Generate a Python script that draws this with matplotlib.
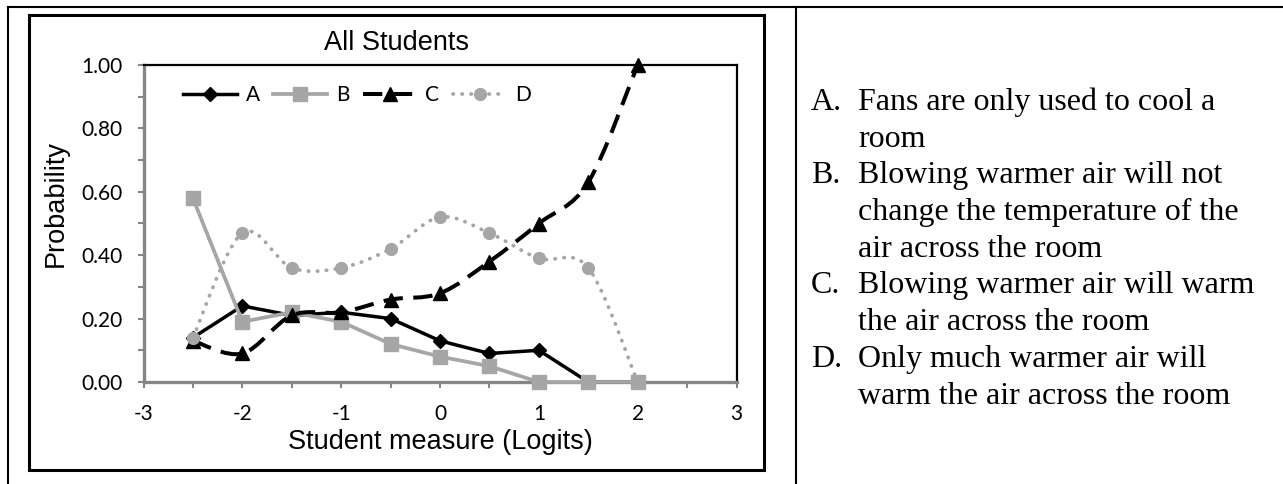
import numpy as np
import matplotlib
matplotlib.use("Agg")
import matplotlib.pyplot as plt
from matplotlib.path import Path
from matplotlib.patches import PathPatch, Rectangle
from matplotlib.lines import Line2D

# ---------------- data ----------------
x_vals = [-2.5, -2, -1.5, -1, -0.5, 0, 0.5, 1, 1.5, 2]
a_vals = [0.14, 0.24, 0.21, 0.22, 0.20, 0.13, 0.09, 0.10, 0.00, 0.00]
b_vals = [0.58, 0.19, 0.22, 0.19, 0.12, 0.08, 0.05, 0.00, 0.00, 0.00]
c_vals = [0.13, 0.09, 0.21, 0.22, 0.26, 0.28, 0.38, 0.50, 0.63, 1.00]
d_vals = [0.14, 0.47, 0.36, 0.36, 0.42, 0.52, 0.47, 0.39, 0.36, 0.00]
series_names = ["A", "B", "C", "D"]

x_ticks = [-3, -2, -1, 0, 1, 2, 3]
x_tick_labels = ["-3", "-2", "-1", "0", "1", "2", "3"]
y_ticks = [0.0, 0.2, 0.4, 0.6, 0.8, 1.0]
y_tick_labels = ["0.00", "0.20", "0.40", "0.60", "0.80", "1.00"]

title = "All Students"
x_label = "Student measure (Logits)"
y_label = "Probability"

answer_lines = [
    ("A.", ["Fans are only used to cool a", "room"]),
    ("B.", ["Blowing warmer air will not", "change the temperature of the", "air across the room"]),
    ("C.", ["Blowing warmer air will warm", "the air across the room"]),
    ("D.", ["Only much warmer air will", "warm the air across the room"]),
]

# ---------------- figure ----------------
W, H = 1283, 484
fig = plt.figure(figsize=(W / 100, H / 100), dpi=100)

def fx(px):
    return px / W

def fy(py):
    return 1 - py / H

GRAY = "#a6a6a6"
AXGRAY = "#868686"
CAL = ["Lato", "DejaVu Sans"]
ARI = ["Liberation Sans", "DejaVu Sans"]

ax_l, ax_r, ax_t, ax_b = 143.5, 736.5, 65, 382
ax = fig.add_axes([fx(ax_l), fy(ax_b), fx(ax_r - ax_l), (ax_b - ax_t) / H])
ax.set_xlim(-3, 3)
ax.set_ylim(0, 1)
ax.set_facecolor("none")


def smooth_path(xs, ys, t=1.0 / 6.0):
    pts = np.column_stack([xs, ys]).astype(float)
    n = len(pts)
    verts = [pts[0]]
    codes = [Path.MOVETO]
    for i in range(n - 1):
        p0 = pts[i - 1] if i > 0 else pts[i]
        p1 = pts[i]
        p2 = pts[i + 1]
        p3 = pts[i + 2] if i + 2 < n else pts[i + 1]
        c1 = p1 + (p2 - p0) * t
        c2 = p2 - (p3 - p1) * t
        verts += [c1, c2, p2]
        codes += [Path.CURVE4] * 3
    return Path(verts, codes)


# A: solid black, diamonds
ax.plot(x_vals, a_vals, color="black", lw=2.5, zorder=3, clip_on=False)
ax.plot(x_vals, a_vals, ls="none", marker="D", ms=7.5, color="black", zorder=3.1, clip_on=False)
# B: solid gray, squares
ax.plot(x_vals, b_vals, color=GRAY, lw=2.7, zorder=4, clip_on=False)
ax.plot(x_vals, b_vals, ls="none", marker="s", ms=9.5, color=GRAY, zorder=4.1, clip_on=False)
# C: dashed black smoothed, triangles
pc = PathPatch(smooth_path(x_vals, c_vals), fill=False, edgecolor="black", lw=2.9,
               linestyle=(0, (4.8, 2.6)), zorder=5, clip_on=False)
ax.add_patch(pc)
ax.plot(x_vals, c_vals, ls="none", marker="^", ms=10.5, color="black", zorder=5.1, clip_on=False)
# D: dotted gray smoothed, circles
pd_ = PathPatch(smooth_path(x_vals, d_vals), fill=False, edgecolor=GRAY, lw=2.7,
                linestyle=(0, (0.1, 2.3)), capstyle="round", zorder=6, clip_on=False)
ax.add_patch(pd_)
ax.plot(x_vals, d_vals, ls="none", marker="o", ms=8.5, color=GRAY, zorder=6.1, clip_on=False)

# legend proxies
handles = [
    Line2D([], [], color="black", lw=2.5, marker="D", ms=7.5),
    Line2D([], [], color=GRAY, lw=2.7, marker="s", ms=9.5),
    Line2D([], [], color="black", lw=2.9, marker="^", ms=10.5, dashes=(4.8, 2.6)),
    Line2D([], [], color=GRAY, lw=2.7, marker="o", ms=8.5, dashes=(0.1, 2.3),
           dash_capstyle="round"),
]
leg = ax.legend(handles, series_names, ncol=4, loc="center",
                bbox_to_anchor=((357 - ax_l) / (ax_r - ax_l), (ax_b - 95) / (ax_b - ax_t)),
                frameon=False, handlelength=2.6, handletextpad=0.4, columnspacing=0.65,
                prop={"family": CAL, "size": 15}, borderpad=0, borderaxespad=0)
leg.set_zorder(7)

# ticks
ax.set_xticks(x_ticks)
ax.set_xticklabels(x_tick_labels, family=CAL, fontsize=15)
ax.set_xticks(np.arange(-2.5, 3, 1.0), minor=True)
ax.set_yticks(y_ticks)
ax.set_yticklabels(y_tick_labels, family=CAL, fontsize=15)
ax.set_yticks(np.arange(0.1, 1.0, 0.2), minor=True)
ax.tick_params(axis="both", which="both", direction="out", length=4.3, width=1.5,
               color=AXGRAY, labelcolor="black")
ax.tick_params(axis="x", which="both", pad=11.5)
ax.tick_params(axis="y", which="both", pad=10.5)

for s in ["left", "bottom"]:
    ax.spines[s].set_color(AXGRAY)
    ax.spines[s].set_linewidth(2.4)
for s in ["top", "right"]:
    ax.spines[s].set_color("black")
    ax.spines[s].set_linewidth(1.6)

# titles
fig.text(fx(396), fy(50), title, ha="center", va="baseline", family=ARI, fontsize=19.5)
fig.text(fx(440), fy(449), x_label, ha="center", va="baseline", family=ARI, fontsize=19.5)
fig.text(fx(56), fy(204), y_label, ha="center", va="center", rotation=90, family=ARI, fontsize=19.5)

# frames
fig.add_artist(Rectangle((fx(29), fy(469.5)), fx(764 - 29), (469.5 - 14.5) / H, fill=False,
                         edgecolor="black", lw=2.2, transform=fig.transFigure))
fig.add_artist(Line2D([fx(8), 1], [fy(7), fy(7)], color="black", lw=1.5, transform=fig.transFigure))
fig.add_artist(Line2D([fx(8), fx(8)], [0, fy(7)], color="black", lw=1.5, transform=fig.transFigure))
fig.add_artist(Line2D([fx(796), fx(796)], [0, fy(7)], color="black", lw=1.5, transform=fig.transFigure))

# right-hand answer text
baseline = 110.0
step = 36.7
for letter, lines in answer_lines:
    fig.text(fx(811), fy(baseline), letter, ha="left", va="baseline",
             family=["Liberation Serif", "DejaVu Serif"], fontsize=23)
    for ln in lines:
        fig.text(fx(858), fy(baseline), ln, ha="left", va="baseline",
                 family=["Liberation Serif", "DejaVu Serif"], fontsize=23)
        baseline += step

fig.savefig("out.png", dpi=100)
